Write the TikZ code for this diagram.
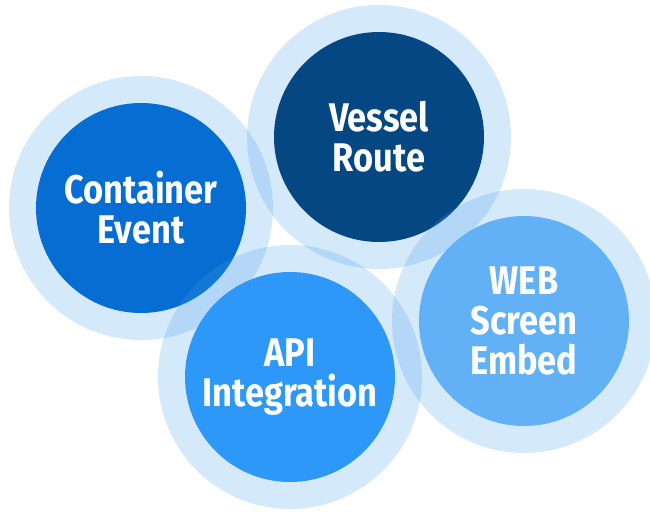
\documentclass[tikz,border=0pt]{standalone}
\usepackage{fontspec}
\setmainfont{Fira Sans}[FakeStretch=0.86]
\definecolor{haloblue}{RGB}{70,158,235}
\definecolor{evtblue}{RGB}{6,109,210}
\definecolor{routeblue}{RGB}{4,71,131}
\definecolor{apiblue}{RGB}{45,152,248}
\definecolor{embedblue}{RGB}{98,177,247}
\begin{document}
\begin{tikzpicture}[x=1pt, y=-1pt,
    halo/.style={circle, fill=haloblue, fill opacity=0.23, minimum size=264pt, inner sep=0pt},
    bubble/.style={circle, minimum size=210pt, inner sep=0pt, text=white, align=center,
        font=\bfseries\fontsize{40}{40}\selectfont}]
    \useasboundingbox (0,0) rectangle (650,511);

    % Container event
    \node[halo] (evt-halo) at (141,208) {};
    \node[bubble, fill=evtblue] (evt) at (evt-halo) {Container\\Event};

    % Vessel route
    \node[halo] (route-halo) at (379,137) {};
    \node[bubble, fill=routeblue] (route) at (route-halo) {Vessel\\Route};

    % API integration
    \node[halo] (api-halo) at (290,377) {};
    \node[bubble, fill=apiblue] (api) at (api-halo) {API\\Integration};

    % Web screen embed
    \node[halo] (embed-halo) at (524,321) {};
    \node[bubble, fill=embedblue] (embed) at (embed-halo) {WEB\\Screen\\Embed};
\end{tikzpicture}
\end{document}
